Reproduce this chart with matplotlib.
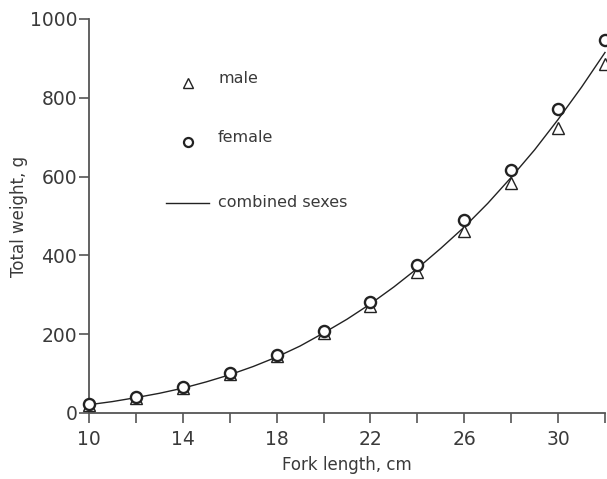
import matplotlib
matplotlib.use("Agg")
import matplotlib.pyplot as plt

plt.rcParams.update({"font.family": ["DejaVu Sans"]})

# fork length classes, cm
length = [10, 12, 14, 16, 18, 20, 22, 24, 26, 28, 30, 32]
male_w = [20, 37, 63, 98, 145, 202, 272, 357, 462, 584, 723, 887]
female_w = [23, 41, 66, 101, 147, 208, 282, 376, 490, 617, 772, 947]

# combined-sexes curve read at 1 cm steps
curve_len = list(range(10, 33))
curve_w = [21, 29, 39, 50, 63, 79, 97, 118, 142, 170, 203, 238, 277, 320,
           367, 418, 472, 532, 598, 668, 745, 827, 915]

INK = "#3a3a3a"
AX = "#555555"

fig = plt.figure(figsize=(6.07, 4.79), dpi=100)
ax = fig.add_axes([89/607, 66/479, 516/607, 394/479])

ax.plot(curve_len, curve_w, color="#222222", lw=1.0, clip_on=False, zorder=2)
ax.plot(length, male_w, ls="none", marker="^", ms=8.5, mfc="white",
        mec="#222222", mew=1.0, clip_on=False, zorder=3)
ax.plot(length, female_w, ls="none", marker="o", ms=8.0, mfc="white",
        mec="#222222", mew=1.7, clip_on=False, zorder=4)

ax.set_xlim(10, 32)
ax.set_ylim(0, 1000)
ax.set_xticks(range(10, 33, 2))
ax.set_xticklabels([str(v) if (v - 10) % 4 == 0 else "" for v in range(10, 33, 2)])
ax.set_yticks(range(0, 1001, 200))
for s in ("top", "right"):
    ax.spines[s].set_visible(False)
for s in ("left", "bottom"):
    ax.spines[s].set_color(AX)
    ax.spines[s].set_linewidth(1.3)
ax.tick_params(colors=AX, labelcolor=INK, labelsize=13.5, length=7, width=1.2)
ax.tick_params(axis="x", pad=5)
ax.tick_params(axis="y", pad=1.5)

ax.set_xlabel("Fork length, cm", fontsize=12, color=INK, labelpad=5)
ax.set_ylabel("Total weight, g", fontsize=12, color=INK, labelpad=1)

# hand-placed key
tr = ax.transAxes
ax.plot([0.192], [0.838], transform=tr, marker="^", ms=7, mfc="white",
        mec="#222222", mew=1.0, clip_on=False)
ax.text(0.250, 0.850, "male", transform=tr, fontsize=11.5, color=INK, va="center")
ax.plot([0.192], [0.688], transform=tr, marker="o", ms=6.5, mfc="white",
        mec="#222222", mew=1.6, clip_on=False)
ax.text(0.250, 0.698, "female", transform=tr, fontsize=11.5, color=INK, va="center")
ax.plot([0.149, 0.233], [0.533, 0.533], transform=tr, color="#222222", lw=1.0)
ax.text(0.250, 0.535, "combined sexes", transform=tr, fontsize=11.5, color=INK, va="center")

fig.savefig("out.png", dpi=100)
